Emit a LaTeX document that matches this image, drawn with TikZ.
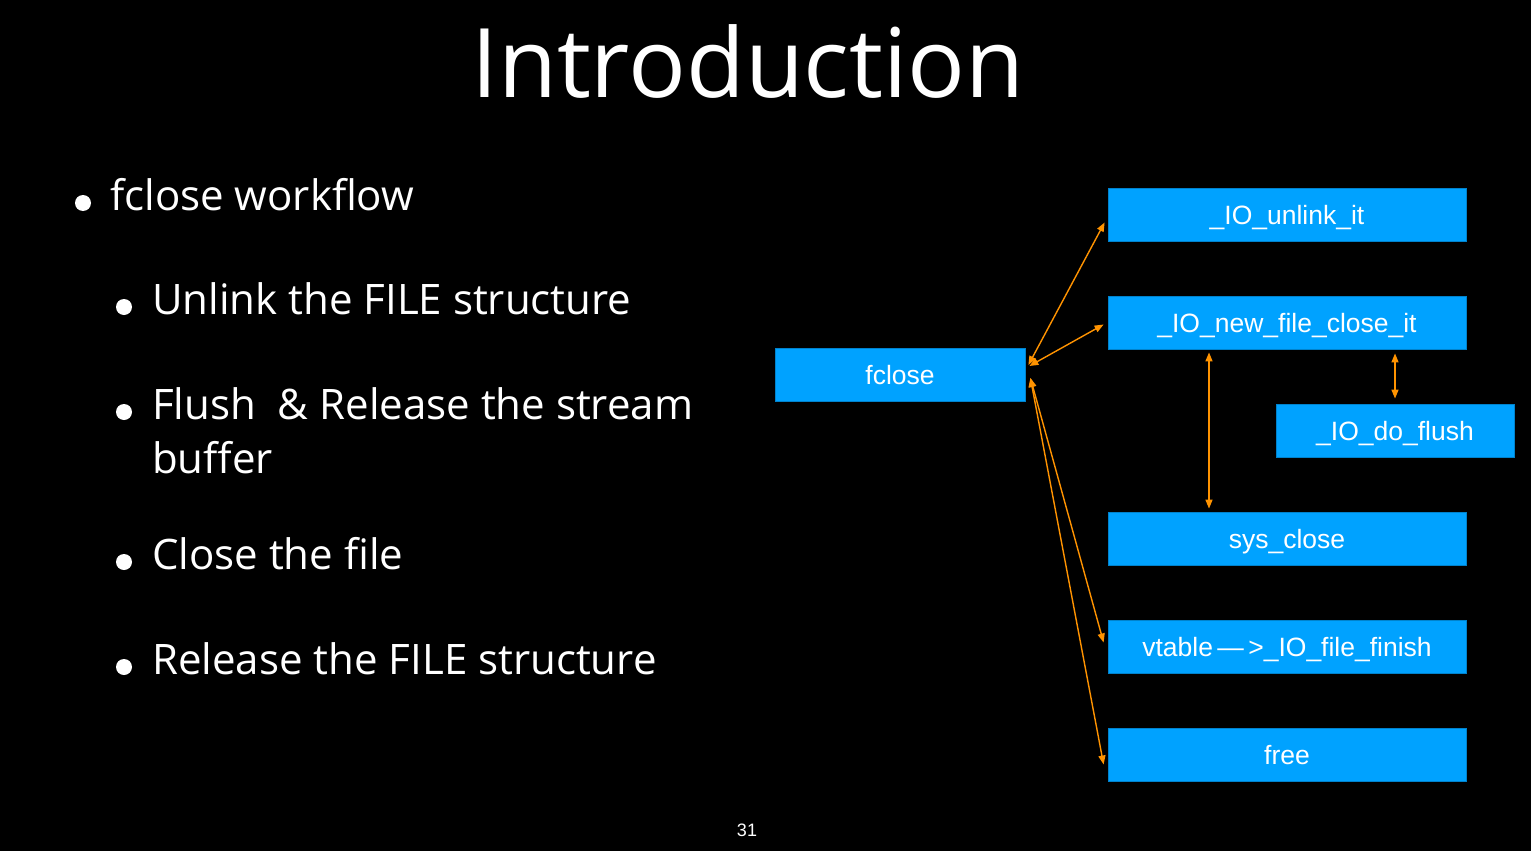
\documentclass[tikz,border=0pt]{standalone}
\usepackage{fontspec}
\setmainfont{Open Sans}
\newfontfamily\boxfont{Liberation Sans}
\usetikzlibrary{arrows.meta}
\definecolor{boxblue}{HTML}{00A2FF}
\definecolor{linkorange}{HTML}{FF9300}
\begin{document}
\begin{tikzpicture}[x=1pt,y=-1pt,
  fnbox/.style={fill=boxblue, draw=boxblue!80!black, line width=0.8pt, minimum height=53pt,
    inner sep=0pt, text=white, text height=23pt, text depth=4pt,
    font=\boxfont\fontsize{26.5}{26.5}\selectfont},
  link/.style={draw=linkorange, line width=1.4pt, {Triangle[length=9pt,width=7pt]}-{Triangle[length=9pt,width=7pt]}},
  bul/.style={anchor=base west, text=white, inner sep=0pt, font=\fontsize{42}{42}\selectfont},
  dot/.style={fill=white, circle, inner sep=0pt, minimum size=16pt}]
  \fill[black] (0,0) rectangle (1531,851);
  \useasboundingbox (0,0) rectangle (1531,851);

  % title
  \node[text=white, anchor=base, inner sep=0pt, font=\fontsize{96}{96}\selectfont] (title) at (748,97) {Introduction};

  % bullet list
  \node[dot] (d0) at (83,203) {};
  \node[bul] (t0) at (110,210) {fclose workflow};
  \node[dot] (d1) at (124,307) {};
  \node[bul] (t1) at (152,314) {Unlink the FILE structure};
  \node[dot] (d2) at (124,412) {};
  \node[bul] (t2) at (152,419) {Flush\ \ \& Release the stream};
  \node[bul] (t2b) at (152,473) {buffer};
  \node[dot] (d3) at (124,562) {};
  \node[bul] (t3) at (152,569) {Close the file};
  \node[dot] (d4) at (124,667) {};
  \node[bul] (t4) at (152,674) {Release the FILE structure};

  % call graph
  \node[fnbox, minimum width=250pt] (fclose) at (900,375) {fclose};
  \node[fnbox, minimum width=358pt] (unlink) at (1287,214.5) {\_IO\_unlink\_it};
  \node[fnbox, minimum width=358pt] (closeit) at (1287,322.5) {\_IO\_new\_file\_close\_it};
  \node[fnbox, minimum width=238pt] (flush) at (1395,430.5) {\_IO\_do\_flush};
  \node[fnbox, minimum width=358pt] (sysclose) at (1287,538.5) {sys\_close};
  \node[fnbox, minimum width=358pt] (finish) at (1287,646.5) {vtable\,—\,>\_IO\_file\_finish};
  \node[fnbox, minimum width=358pt] (free) at (1287,754.5) {free};

  \draw[link] ([shift={(3,-10)}]fclose.east) -- ([shift={(-3,8)}]unlink.west);
  \draw[link] ([shift={(4,-9)}]fclose.east) -- ([shift={(-4,2)}]closeit.west);
  \draw[link] ([shift={(5,3)}]fclose.east) -- ([shift={(-4,-4)}]finish.west);
  \draw[link] ([shift={(5,3)}]fclose.east) -- ([shift={(-4,10)}]free.west);
  \draw[link] ([shift={(-78,3)}]closeit.south) -- ([shift={(-78,-3)}]sysclose.north);
  \draw[link] ([shift={(108,4)}]closeit.south) -- ([shift={(0,-5)}]flush.north);

  % slide number
  \node[text=white, font=\boxfont\fontsize{18}{18}\selectfont, anchor=base, inner sep=0pt] (num) at (747,836) {31};
\end{tikzpicture}
\end{document}
